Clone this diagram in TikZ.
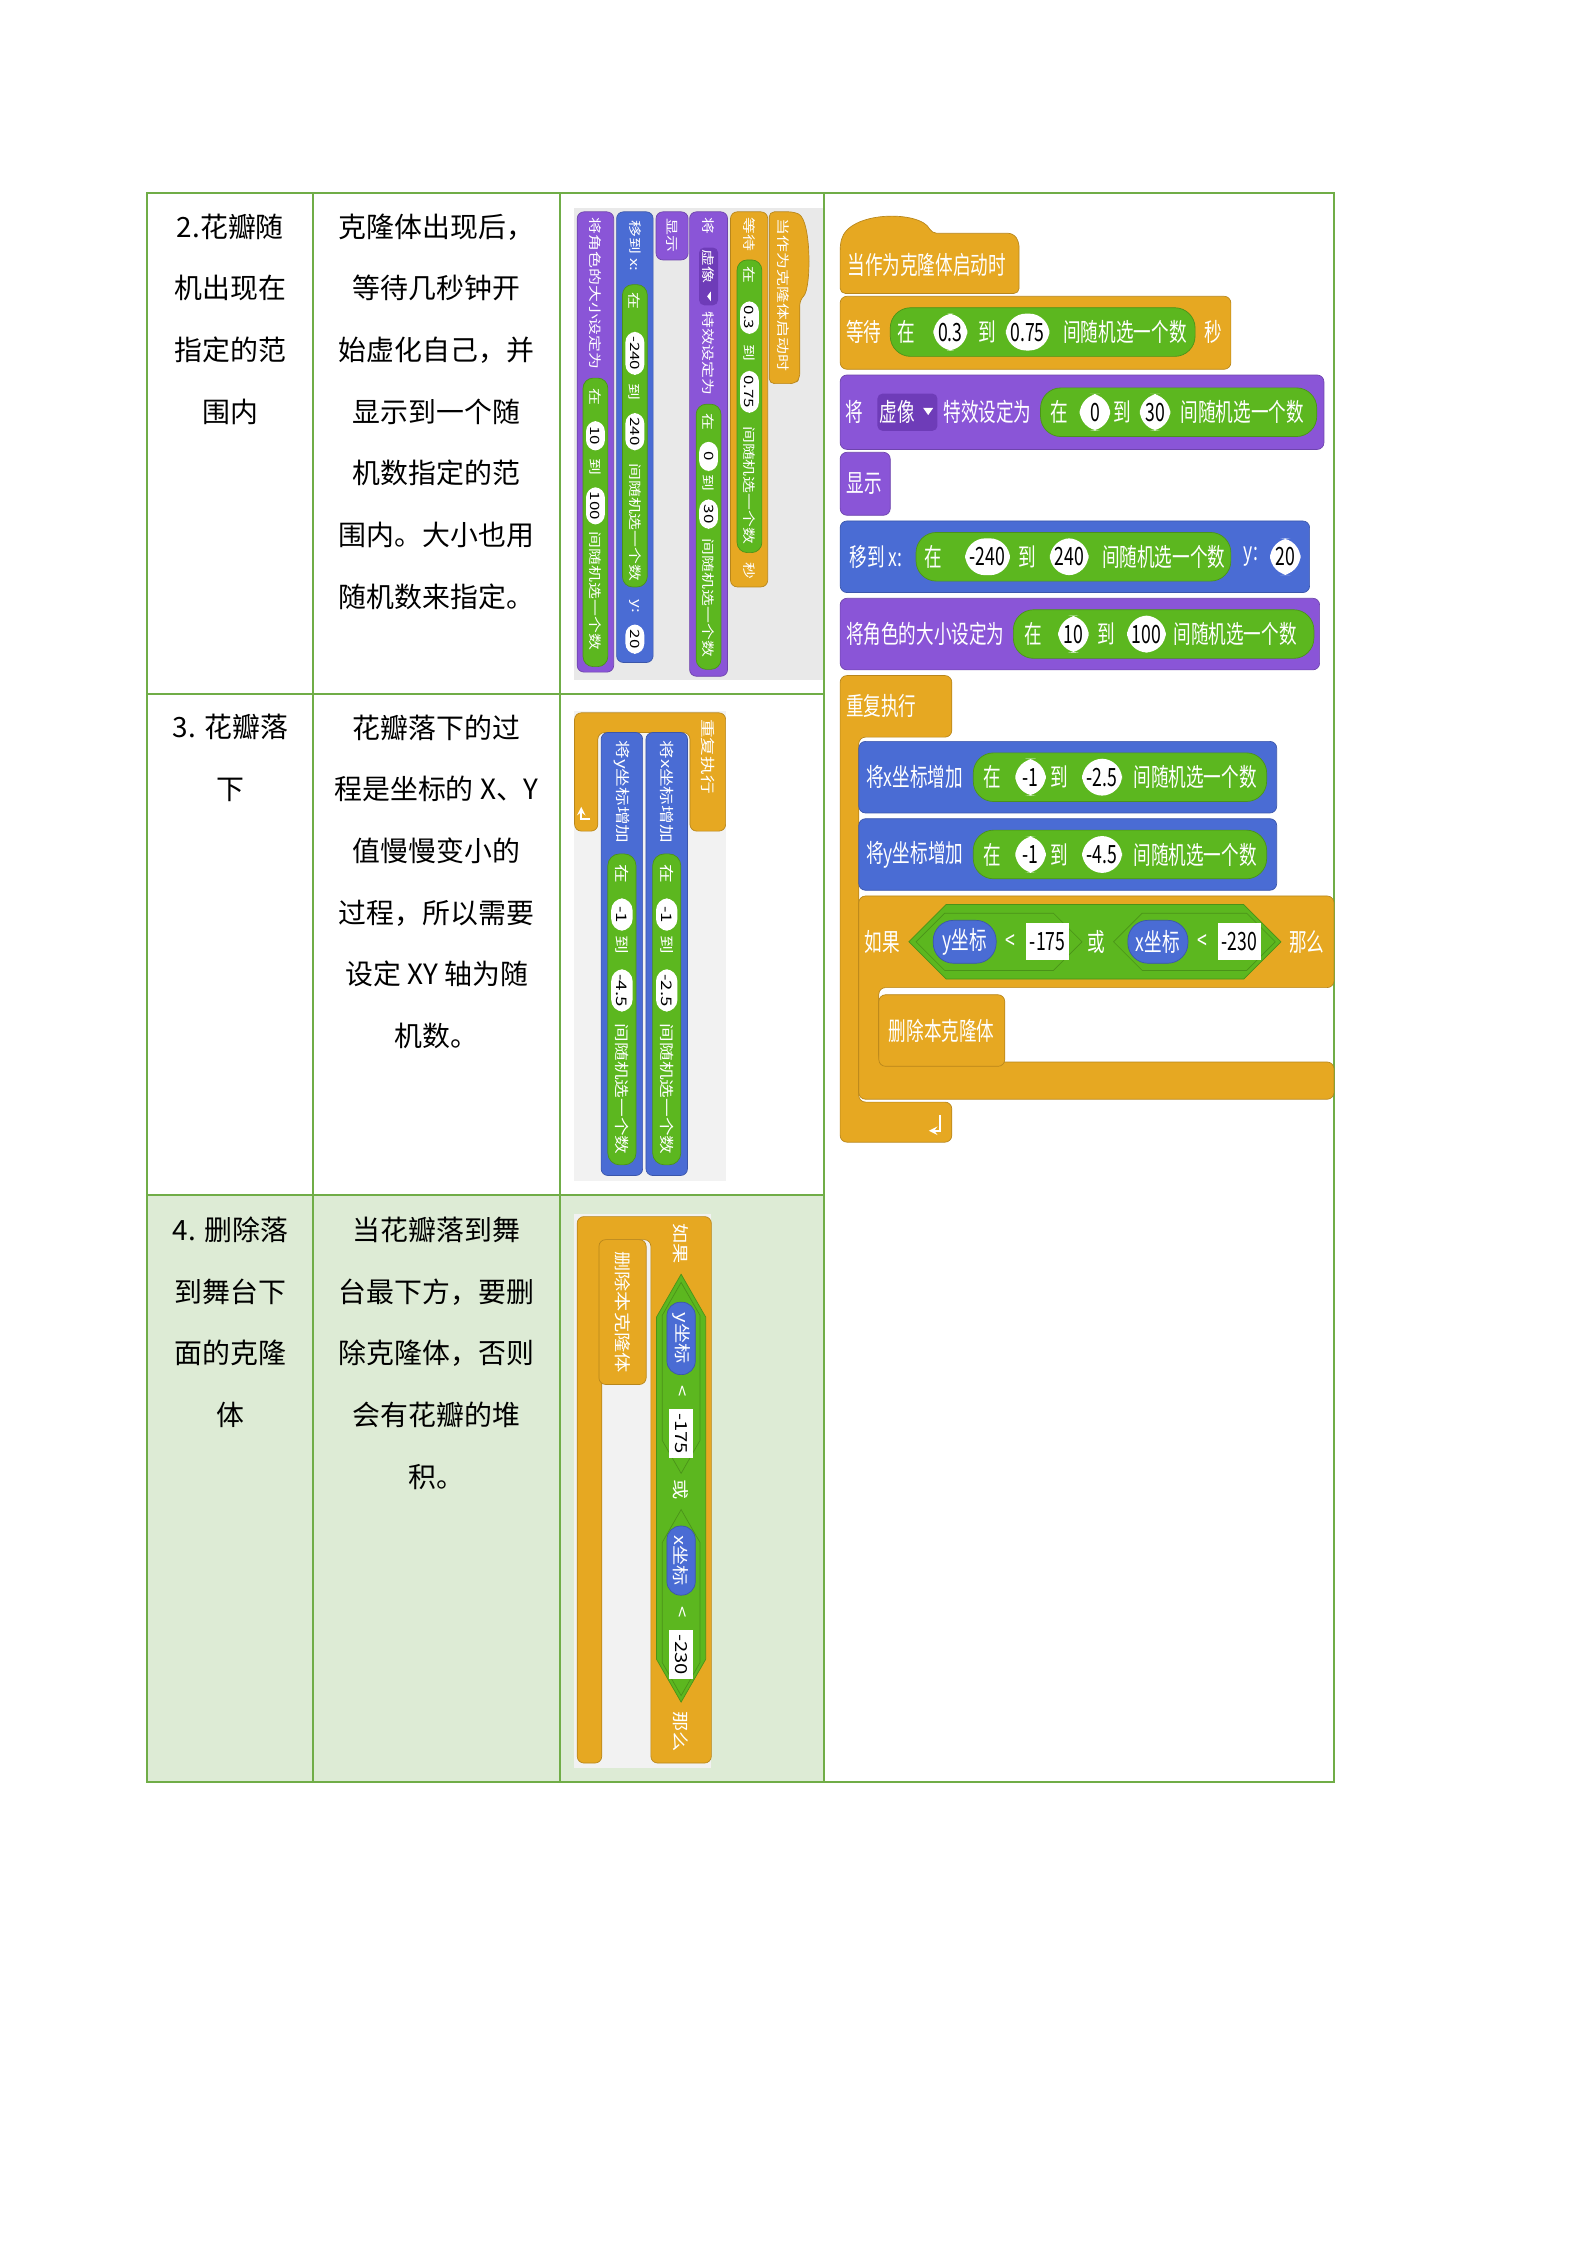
\documentclass[tikz,border=0pt]{standalone}
\usepackage{fontspec}
\setmainfont{Noto Sans CJK SC}
\definecolor{ctrlc}{HTML}{E6A822}
\definecolor{looksc}{HTML}{8A55D7}
\definecolor{looksd}{HTML}{6E3CB8}
\definecolor{motc}{HTML}{4A6CD4}
\definecolor{opc}{HTML}{5CB71F}
\definecolor{gridc}{HTML}{70AD47}
\definecolor{rowg}{HTML}{DDEBD5}
\definecolor{imgbg}{HTML}{E9E9E9}
\newcommand\rr{12pt}
\newcommand\bfont{\fontsize{15}{15}\selectfont}
\tikzset{
 ctrl/.style={fill=ctrlc,draw=ctrlc!80!black,line width=0.4pt},
 looks/.style={fill=looksc,draw=looksc!80!black,line width=0.4pt},
 motion/.style={fill=motc,draw=motc!80!black,line width=0.4pt},
 op/.style={fill=opc,draw=opc!80!black,line width=0.4pt},
 bt/.style={text=white,font=\bfont,inner sep=0pt,transform shape,xscale=0.7},
 num/.style={fill=white,text=black,font=\bfont,rounded corners=\rr,inner xsep=4pt,inner ysep=0pt,minimum height=22pt,minimum width=26pt,transform shape,xscale=0.7},
 strin/.style={fill=white,text=black,font=\bfont,inner xsep=3pt,inner ysep=0pt,minimum height=22pt,transform shape,xscale=0.7},
 cell/.style={anchor=north,align=center,inner sep=0pt,font=\fontsize{16.5}{36.5}\selectfont},
 grid/.style={draw=gridc,line width=1.2pt}
}
\newcommand\hexa[5]{\path[#1] (#2,{(#4+#5)/2}) -- ({#2+(#5-#4)/2},#4) -- ({#3-(#5-#4)/2},#4) -- (#3,{(#4+#5)/2}) -- ({#3-(#5-#4)/2},#5) -- ({#2+(#5-#4)/2},#5) -- cycle;}
\newcommand\stackA{%
 \path[ctrl,rounded corners=3] (0,60) -- (0,26) .. controls (6,2) and (56,2) .. (64,18) -- (121,18) -- (125,24) -- (125,60) -- cycle;
 \node[bt,anchor=west] at (5,40) {当作为克隆体启动时};
 \path[ctrl,rounded corners=4] (0,62) rectangle (273,113);
 \node[bt,anchor=west] at (4,87) {等待};
 \path[op,rounded corners=\rr] (35,70) rectangle (248,104);
 \node[bt] at (46,87){在}; \node[num] at (77,87){0.3}; \node[bt] at (103,87){到};
 \node[num] at (131,87){0.75}; \node[bt] at (199,87){间随机选一个数}; \node[bt] at (261,87){秒};
 \path[looks,rounded corners=4] (0,117) rectangle (338,169);
 \node[bt] at (10,143){将};
 \path[fill=looksd,rounded corners=3] (26,130) rectangle (68,156);
 \node[bt] at (40,143){虚像};
 \fill[white] (58,140) -- (65,140) -- (61.5,145) -- cycle;
 \node[bt] at (103,143){特效设定为};
 \path[op,rounded corners=\rr] (140,126) rectangle (333,160);
 \node[bt] at (153,143){在}; \node[num] at (178,143){0}; \node[bt] at (197,143){到};
 \node[num] at (220,143){30}; \node[bt] at (281,143){间随机选一个数};
 \path[looks,rounded corners=4] (0,171) rectangle (35,215);
 \node[bt] at (17,193){显示};
 \path[motion,rounded corners=4] (0,219) rectangle (328,269);
 \node[bt] at (25,244){移到 x:};
 \path[op,rounded corners=\rr] (53,227) rectangle (273,261);
 \node[bt] at (65,244){在}; \node[num] at (103,244){-240}; \node[bt] at (131,244){到};
 \node[num] at (160,244){240}; \node[bt] at (226,244){间随机选一个数};
 \node[bt] at (287,244){y:}; \node[num] at (311,244){20};
 \path[looks,rounded corners=4] (0,273) rectangle (335,323);
 \node[bt,anchor=west] at (4,298){将角色的大小设定为};
 \path[op,rounded corners=\rr] (121,281) rectangle (331,315);
 \node[bt] at (135,298){在}; \node[num] at (163,298){10}; \node[bt] at (186,298){到};
 \node[num] at (214,298){100}; \node[bt] at (276,298){间随机选一个数};
}
\newcommand\repblk[1]{%
 \path[ctrl,rounded corners=4] (0,0) -- (78,0) -- (78,43) -- (13,43) -- (13,43+#1) -- (78,43+#1) -- (78,71+#1) -- (0,71+#1) -- cycle;
 \node[bt,anchor=west] at (4,21){重复执行};
 \draw[white,line width=1.2pt,-stealth] (70,52+#1) -- (70,63+#1) -- (62,63+#1);
}
\newcommand\chg[3]{%
 \path[motion,rounded corners=4] (13,#1) rectangle (305,#1+50);
 \node[bt,anchor=west] at (18,#1+25) {#2};
 \path[op,rounded corners=\rr] (93,#1+8) rectangle (298,#1+42);
 \node[bt] at (106,#1+25){在}; \node[num] at (133,#1+25){-1}; \node[bt] at (153,#1+25){到};
 \node[num] at (183,#1+25){#3}; \node[bt] at (248,#1+25){间随机选一个数};
}
\newcommand\ifblk{%
 \path[ctrl,rounded corners=4] (0,0) -- (332,0) -- (332,64) -- (14,64) -- (14,116) -- (332,116) -- (332,142) -- (0,142) -- cycle;
 \node[bt,anchor=west] at (4,32){如果};
 \hexa{op}{35}{295}{6}{58}
 \hexa{op}{40}{156}{12}{52}
 \path[motion,rounded corners=\rr] (52,17) rectangle (96,47);
 \node[bt] at (74,32){y坐标}; \node[bt] at (106,32){<}; \node[strin] at (132,32){-175};
 \node[bt] at (166,32){或};
 \hexa{op}{178}{291}{12}{52}
 \path[motion,rounded corners=\rr] (188,17) rectangle (230,47);
 \node[bt] at (209,32){x坐标}; \node[bt] at (240,32){<}; \node[strin] at (266,32){-230};
 \node[bt] at (313,32){那么};
 \path[ctrl,rounded corners=4] (14,69) rectangle (102,119);
 \node[bt] at (58,94){删除本克隆体};
}
\begin{document}
\begin{tikzpicture}[x=0.03cm,y=-0.03cm]
\useasboundingbox[fill=white] (0,0) rectangle (1100,1556);
\begin{scope}[scale=0.992]
% row 4 background
\fill[rowg] (103,835) rectangle (576,1245);
% image backgrounds
\fill[imgbg] (401,145) rectangle (576,475);
\fill[imgbg!60!white] (401,497) rectangle (507,825);
\fill[imgbg!60!white] (401,848) rectangle (497,1235);
% grid
\draw[grid] (103,135) rectangle (932,1245);
\draw[grid] (219,135) -- (219,1245);
\draw[grid] (391,135) -- (391,1245);
\draw[grid] (576,135) -- (576,1245);
\draw[grid] (103,485) -- (576,485);
\draw[grid] (103,835) -- (576,835);
% texts
\node[cell] (t1a) at (161,149) {2.花瓣随\\机出现在\\指定的范\\围内};
\node[cell] (t1b) at (305,149) {克隆体出现后，\\等待几秒钟开\\始虚化自己，并\\显示到一个随\\机数指定的范\\围内。大小也用\\随机数来指定。};
\node[cell] (t2a) at (161,499) {3. 花瓣落\\下};
\node[cell] (t2b) at (305,499) {花瓣落下的过\\程是坐标的 X、Y\\值慢慢变小的\\过程，所以需要\\设定 XY 轴为随\\机数。};
\node[cell] (t3a) at (161,850) {4. 删除落\\到舞台下\\面的克隆\\体};
\node[cell] (t3b) at (305,850) {当花瓣落到舞\\台最下方，要删\\除克隆体，否则\\会有花瓣的堆\\积。};
% right side full script
\begin{scope}[shift={(587,145)}]
 \stackA
\end{scope}
\begin{scope}[shift={(587,472)}]
 \repblk{255}
 \chg{46}{将x坐标增加}{-2.5}
 \chg{100}{将y坐标增加}{-4.5}
 \begin{scope}[shift={(13,154)}]
  \ifblk
 \end{scope}
\end{scope}
% rotated cell images
\begin{scope}[cm={0,-0.96,0.51,0,(568,148)}]
 \renewcommand\rr{6pt}
 \stackA
\end{scope}
\begin{scope}[cm={0,-1.06,0.58,0,(507,498)}]
 \renewcommand\rr{7pt}
 \repblk{111}
 \chg{46}{将x坐标增加}{-2.5}
 \chg{100}{将y坐标增加}{-4.5}
\end{scope}
\begin{scope}[cm={0,-1.15,0.66,0,(497,850)}]
 \renewcommand\rr{8pt}
 \ifblk
\end{scope}
\end{scope}
\end{tikzpicture}
\end{document}
